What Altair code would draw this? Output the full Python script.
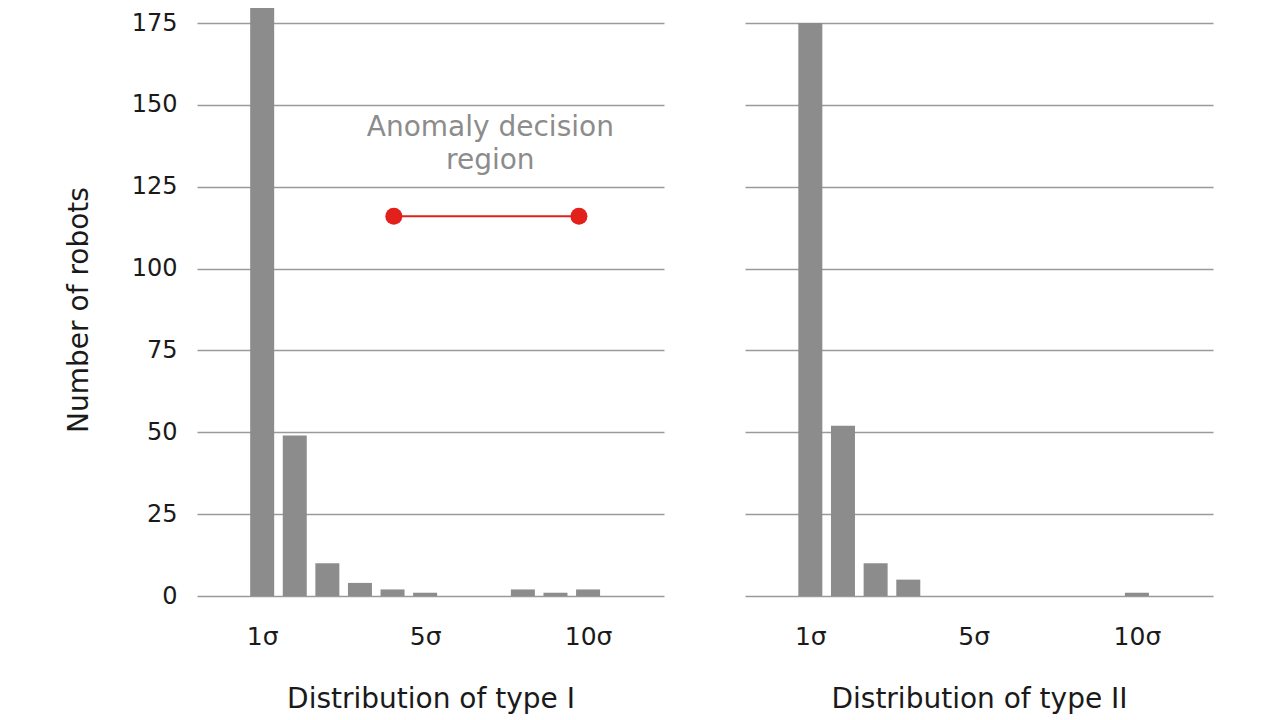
import altair as alt
import pandas as pd

# ---- data ----
bins = list(range(1, 12))
type1_counts = [181, 49, 10, 4, 2, 1, 0, 0, 2, 1, 2]
type2_counts = [175, 52, 10, 5, 0, 0, 0, 0, 0, 0, 1]
tick_bins = [1, 6, 11]
tick_labels = ["1σ", "5σ", "10σ"]
y_ticks = [0, 25, 50, 75, 100, 125, 150, 175]
region_x = [5.04, 10.72]
region_y = [116, 116]
annot_text = ["Anomaly decision", "region"]
annot_x = [8]
annot_y = [143]

FONT = "DejaVu Sans"
BAR = "#8c8c8c"
GRID = "#9a9a9a"
RED = "#e2201c"

df1 = pd.DataFrame({"bin": bins, "count": type1_counts})
df2 = pd.DataFrame({"bin": bins, "count": type2_counts})
df_region = pd.DataFrame({"x": region_x, "y": region_y})
df_annot = pd.DataFrame({"x": annot_x, "y": annot_y, "t": [annot_text]})

label_expr = " : ".join(
    f"datum.value == {b} ? '{l}'" for b, l in zip(tick_bins[:-1], tick_labels[:-1])
) + f" : '{tick_labels[-1]}'"

xscale = alt.Scale(domain=[-1, 13.33], nice=False, zero=False, padding=0)
yscale = alt.Scale(domain=[0, 175], nice=False)


def xaxis(title):
    return alt.Axis(
        values=tick_bins, labelExpr=label_expr, title=title, grid=False,
        domain=False, ticks=False, labelPadding=28, titlePadding=36,
        labelFontSize=25, titleFontSize=28, labelFont=FONT, titleFont=FONT,
        labelColor="#1a1a1a", titleColor="#1a1a1a", titleFontWeight="normal",
    )


def yaxis(show):
    if show:
        return alt.Axis(
            values=y_ticks, title="Number of robots", grid=True, gridColor=GRID,
            gridWidth=1.5, domain=False, ticks=False, labelPadding=20,
            titlePadding=38, labelFontSize=24, titleFontSize=28,
            labelFont=FONT, titleFont=FONT, labelColor="#1a1a1a",
            titleColor="#1a1a1a", titleFontWeight="normal",
        )
    return alt.Axis(
        values=y_ticks, title=None, labels=False, grid=True, gridColor=GRID,
        gridWidth=1.5, domain=False, ticks=False,
    )


left_bars = alt.Chart(df1).transform_filter("datum.count > 0").mark_bar(
    size=24, color=BAR, clip=False
).encode(
    x=alt.X("bin:Q", scale=xscale, axis=xaxis("Distribution of type I")),
    y=alt.Y("count:Q", scale=yscale, axis=yaxis(True)),
)

region_line = alt.Chart(df_region).mark_line(color=RED, strokeWidth=2).encode(
    x="x:Q", y="y:Q"
)
region_pts = alt.Chart(df_region).mark_point(
    filled=True, color=RED, size=290, opacity=1
).encode(x="x:Q", y="y:Q")

annot = alt.Chart(df_annot).mark_text(
    font=FONT, fontSize=28, color="#8c8c8c", lineHeight=33,
    align="center", baseline="middle",
).encode(x="x:Q", y="y:Q", text="t")

left = alt.layer(left_bars, region_line, region_pts, annot).properties(
    width=467, height=573
)

right = alt.Chart(df2).transform_filter("datum.count > 0").mark_bar(
    size=24, color=BAR, clip=False
).encode(
    x=alt.X("bin:Q", scale=xscale, axis=xaxis("Distribution of type II")),
    y=alt.Y("count:Q", scale=yscale, axis=yaxis(False)),
).properties(width=468, height=573)

chart = alt.hconcat(left, right, spacing=81).properties(
    padding={"left": 57, "top": -5, "right": 5, "bottom": 5},
    background="white",
).configure_view(stroke=None)

chart.save("out.html", embed_options={"renderer": "svg", "actions": False})
